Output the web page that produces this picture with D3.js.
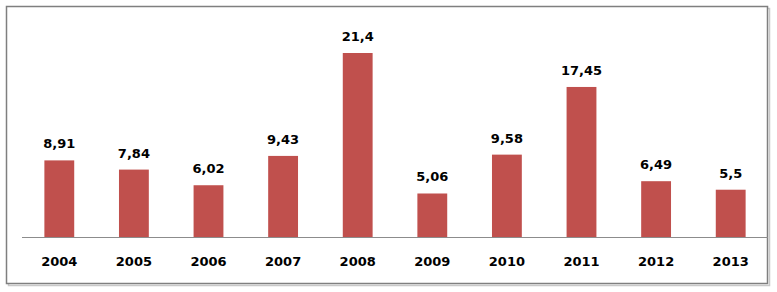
<!DOCTYPE html>
<meta charset="utf-8">
<script src="https://d3js.org/d3.v7.min.js"></script>
<style>
  body { margin: 0; background: #fff; }
  text { font-family: "DejaVu Sans", Verdana, sans-serif; font-weight: bold; fill: #000; }
</style>
<body>
<div id="chart"></div>
<script>
// data
var years = ["2004", "2005", "2006", "2007", "2008", "2009", "2010", "2011", "2012", "2013"];
var values = [8.91, 7.84, 6.02, 9.43, 21.4, 5.06, 9.58, 17.45, 6.49, 5.5];
var labels = ["8,91", "7,84", "6,02", "9,43", "21,4", "5,06", "9,58", "17,45", "6,49", "5,5"];

var W = 777, H = 292;
var svg = d3.select("#chart").append("svg")
    .attr("width", W)
    .attr("height", H);

// frame with a light shadow
svg.append("rect")
    .attr("x", 8.5).attr("y", 8.5)
    .attr("width", 761).attr("height", 277)
    .attr("fill", "none")
    .attr("stroke", "#c8c8c8")
    .attr("stroke-width", 1.5);
svg.append("rect")
    .attr("x", 6.5).attr("y", 6.5)
    .attr("width", 761).attr("height", 277)
    .attr("fill", "#fff")
    .attr("stroke", "#7f7f7f")
    .attr("stroke-width", 1.5);

var baseY = 237;
var x = d3.scaleBand()
    .domain(years)
    .range([22, 768])
    .paddingInner(0.6)
    .paddingOuter(0.3);

var y = d3.scaleLinear()
    .domain([0, 21.4])
    .range([baseY, 53]);

var data = years.map(function(d, i) { return {year: d, value: values[i], label: labels[i]}; });

svg.selectAll(".bar")
    .data(data)
    .enter().append("rect")
    .attr("class", "bar")
    .attr("x", function(d) { return x(d.year); })
    .attr("y", function(d) { return y(d.value); })
    .attr("width", x.bandwidth())
    .attr("height", function(d) { return baseY - y(d.value); })
    .attr("fill", "#c0504d");

// baseline
svg.append("line")
    .attr("x1", 22).attr("x2", 768)
    .attr("y1", baseY + 0.5).attr("y2", baseY + 0.5)
    .attr("stroke", "#8c8c8c")
    .attr("stroke-width", 1);

// value labels
svg.selectAll(".val")
    .data(data)
    .enter().append("text")
    .attr("class", "val")
    .attr("x", function(d) { return x(d.year) + x.bandwidth() / 2; })
    .attr("y", function(d) { return y(d.value) - 12; })
    .attr("text-anchor", "middle")
    .style("font-size", "13px")
    .text(function(d) { return d.label; });

// category labels
svg.selectAll(".yr")
    .data(data)
    .enter().append("text")
    .attr("class", "yr")
    .attr("x", function(d) { return x(d.year) + x.bandwidth() / 2; })
    .attr("y", 266)
    .attr("text-anchor", "middle")
    .style("font-size", "13px")
    .text(function(d) { return d.year; });
</script>
</body>
